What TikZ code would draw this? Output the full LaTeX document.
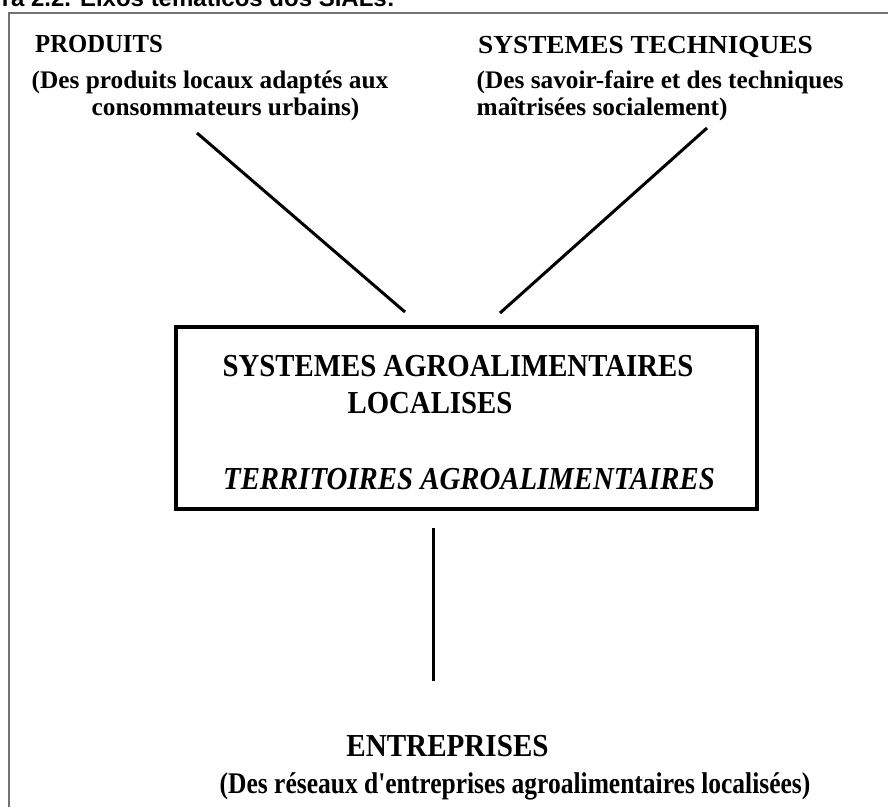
\documentclass[tikz,border=0pt]{standalone}
\usepackage{fontspec}
\setmainfont{Liberation Serif}
\newfontfamily\captionsans{Liberation Sans}
\begin{document}
\begin{tikzpicture}[x=1pt,y=-1pt,
  txt/.style={inner sep=0pt, anchor=base},
  head/.style={txt, anchor=base west, font=\bfseries\fontsize{26}{30}\selectfont},
  sub/.style={txt, font=\bfseries\fontsize{25.3}{29}\selectfont},
  inbox/.style={txt, xscale=0.9, font=\bfseries\fontsize{32}{36}\selectfont},
  link/.style={line width=3pt},
  frame/.style={draw=black!55, line width=2.5pt},
  salbox/.style={draw=black, line width=3.5pt, inner sep=0pt, minimum width=581pt, minimum height=182pt}]
\useasboundingbox (0,0) rectangle (888,807);
\clip (0,0) rectangle (888,807);
\fill[white] (0,0) rectangle (888,807);

% caption line above the frame (cut by the page edge)
\node[txt, anchor=base east, font=\captionsans\bfseries\fontsize{24}{28}\selectfont]
  (caption) at (395,6) {Figura 2.2. Eixos temáticos dos SIALs:};

% outer frame
\draw[frame] (888,13) -- (9,13) -- (9,807);

% top left: products
\node[head, xscale=0.95] (prod) at (35,52) {PRODUITS};
\node[sub] (prodsub1) at (210,88) {(Des produits locaux adaptés aux};
\node[sub] (prodsub2) at (225.5,115) {consommateurs urbains)};

% top right: technical systems
\node[head, xscale=1.05] (tech) at (478,53) {SYSTEMES TECHNIQUES};
\node[sub, anchor=base west] (techsub1) at (476.5,88) {(Des savoir-faire et des techniques};
\node[sub, anchor=base west] (techsub2) at (476.5,115) {maîtrisées socialement)};

% central box
\node[salbox] (sal) at (466.5,418) {};
\node[inbox] (saltitle) at (458,376) {SYSTEMES AGROALIMENTAIRES};
\node[inbox] (salloc) at (430,413) {LOCALISES};
\node[inbox, font=\bfseries\itshape\fontsize{32}{36}\selectfont] (terr) at (469,489) {TERRITOIRES AGROALIMENTAIRES};

% bottom: enterprises
\node[txt, xscale=0.91, font=\bfseries\fontsize{32}{36}\selectfont] (entr) at (447.5,756) {ENTREPRISES};
\node[txt, xscale=0.85, font=\bfseries\fontsize{30}{34}\selectfont] (entrsub) at (515,793) {(Des réseaux d\textquotesingle entreprises agroalimentaires localisées)};

% connector ends
\coordinate (pa) at (197,133);
\coordinate (pb) at (405,312);
\coordinate (ta) at (707,128);
\coordinate (tb) at (500,313);
\coordinate (ea) at (433,528);
\coordinate (eb) at (433,681);

\draw[link] (pa) -- (pb);
\draw[link] (ta) -- (tb);
\draw[link] (ea) -- (eb);
\end{tikzpicture}
\end{document}
